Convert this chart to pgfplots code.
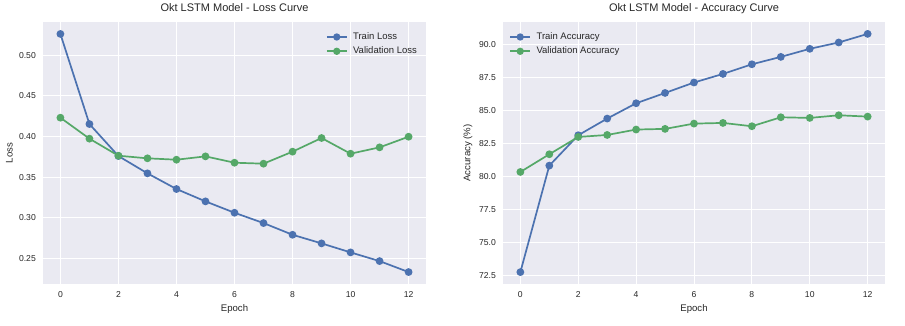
\documentclass[border=0pt]{standalone}
\usepackage{pgfplots}
\pgfplotsset{compat=1.18}
\usepackage{fontspec}
\setmainfont{Liberation Sans}
\definecolor{sbblue}{HTML}{4C72B0}
\definecolor{sbgreen}{HTML}{55A868}
\definecolor{sbbg}{HTML}{EAEAF2}
\definecolor{sbtext}{HTML}{262626}

\pgfplotsset{
  sbstyle/.style={
    scale only axis,
    axis background/.style={fill=sbbg},
    axis line style={draw=none},
    major tick length=0pt,
    grid=major,
    major grid style={white, line width=0.9bp},
    xmin=-0.6, xmax=12.6,
    xtick={0,2,...,12},
    /pgf/number format/assume math mode=true,
    tick label style={font=\fontsize{8.6bp}{10bp}\selectfont, text=sbtext},
    xticklabel style={anchor=north, inner sep=0pt, yshift=-7.5bp},
    yticklabel style={anchor=east, inner sep=0pt, xshift=-7bp},
    label style={font=\fontsize{9.6bp}{11bp}\selectfont, text=sbtext},
    xlabel style={at={(axis description cs:0.5,0)}, anchor=base, inner sep=0pt, yshift=-27.5bp},
    title style={at={(axis description cs:0.5,1)}, anchor=base, inner sep=0pt, yshift=5bp,
                 font=\fontsize{11bp}{13bp}\selectfont, text=sbtext},
    legend style={draw=none, fill=none, inner sep=0pt, row sep=2.0bp,
                  font=\fontsize{9.5bp}{10bp}\selectfont, text=sbtext,
                  nodes={text height=6.8bp, text depth=1.5bp, inner sep=2bp}},
    legend cell align=left,
    legend image code/.code={\draw[line width=1.8bp,mark repeat=2,mark phase=2,mark size=2.7bp] plot coordinates {(0bp,0bp)(10bp,0bp)(20bp,0bp)};\path (23.5bp,0bp);},
    every axis plot/.append style={line width=1.7bp, mark=*, mark size=3bp},
  }
}

\begin{document}
\begin{tikzpicture}
\useasboundingbox (0,0) rectangle (905bp,326bp);

\begin{axis}[sbstyle,
  at={(43bp,42bp)}, anchor=south west,
  width=383bp, height=262bp,
  ymin=0.2185, ymax=0.541,
  ytick={0.25,0.30,...,0.50},
  yticklabel style={/pgf/number format/.cd, fixed, fixed zerofill, precision=2},
  title={Okt LSTM Model - Loss Curve},
  xlabel={Epoch}, ylabel={Loss},
  ylabel style={at={(axis description cs:-0.0880,0.5)}, anchor=center, inner sep=0pt},
  legend style={at={(axis description cs:0.738,0.967)}, anchor=north west},
]
\addplot[color=sbblue, mark options={fill=sbblue, draw=sbblue}] coordinates {
(0,0.5263)(1,0.4154)(2,0.3760)(3,0.3547)(4,0.3354)(5,0.3202)(6,0.3062)
(7,0.2935)(8,0.2791)(9,0.2685)(10,0.2574)(11,0.2467)(12,0.2332)};
\addlegendentry{Train Loss}
\addplot[color=sbgreen, mark options={fill=sbgreen, draw=sbgreen}] coordinates {
(0,0.4232)(1,0.3974)(2,0.3764)(3,0.3732)(4,0.3715)(5,0.3756)(6,0.3678)
(7,0.3666)(8,0.3814)(9,0.3982)(10,0.3789)(11,0.3867)(12,0.3998)};
\addlegendentry{Validation Loss}
\end{axis}

\begin{axis}[sbstyle,
  at={(503bp,42bp)}, anchor=south west,
  width=382bp, height=262bp,
  ymin=71.85, ymax=91.68,
  ytick={72.5,75,...,90},
  yticklabel style={/pgf/number format/.cd, fixed, fixed zerofill, precision=1},
  title={Okt LSTM Model - Accuracy Curve},
  xlabel={Epoch}, ylabel={Accuracy (\%)},
  ylabel style={at={(axis description cs:-0.0916,0.5)}, anchor=center, inner sep=0pt},
  legend style={at={(axis description cs:0.016,0.967)}, anchor=north west},
]
\addplot[color=sbblue, mark options={fill=sbblue, draw=sbblue}] coordinates {
(0,72.75)(1,80.81)(2,83.11)(3,84.37)(4,85.53)(5,86.31)(6,87.10)
(7,87.75)(8,88.48)(9,89.04)(10,89.65)(11,90.13)(12,90.78)};
\addlegendentry{Train Accuracy}
\addplot[color=sbgreen, mark options={fill=sbgreen, draw=sbgreen}] coordinates {
(0,80.33)(1,81.67)(2,82.98)(3,83.13)(4,83.54)(5,83.59)(6,83.99)
(7,84.04)(8,83.79)(9,84.47)(10,84.42)(11,84.62)(12,84.52)};
\addlegendentry{Validation Accuracy}
\end{axis}
\end{tikzpicture}
\end{document}
